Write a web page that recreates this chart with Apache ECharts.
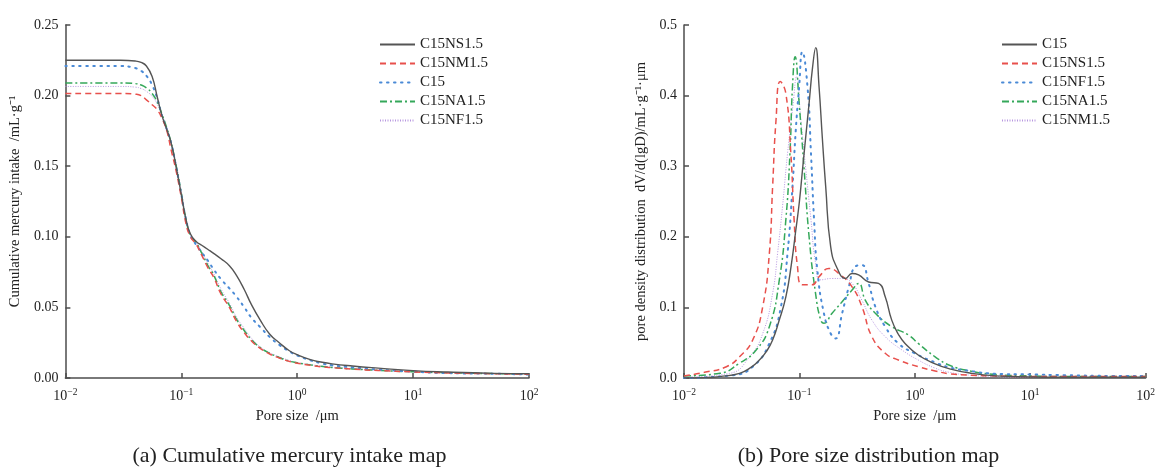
<!DOCTYPE html>
<html>
<head>
    <meta charset="utf-8">
    <title>ECharts</title>
    <script src="https://cdn.jsdelivr.net/npm/echarts@6/dist/echarts.min.js"></script>
    <style>
        body { margin: 0; background: #fff; }
        .box { position: absolute; top: 0; width: 579px; height: 468px; }
    </style>
</head>
<body>
    <div id="left" class="box" style="left:0"></div>
    <div id="right" class="box" style="left:579px"></div>
    <script type="text/javascript">
        // (a) cumulative intake, all series share the same pore sizes
        var poreA = [0.01, 0.02, 0.03, 0.04, 0.045, 0.05, 0.056, 0.062, 0.068, 0.075, 0.082, 0.09, 0.1, 0.11, 0.12, 0.135, 0.15, 0.17, 0.19, 0.22, 0.26, 0.3, 0.35, 0.4, 0.48, 0.58, 0.7, 0.85, 1, 1.3, 1.6, 2, 3, 5, 10, 20, 50, 100];
        var cumNS = [0.225, 0.225, 0.225, 0.2245, 0.2235, 0.221, 0.2135, 0.199, 0.186, 0.176, 0.166, 0.150, 0.130, 0.112, 0.102, 0.0965, 0.094, 0.091, 0.0883, 0.0845, 0.0795, 0.0725, 0.0625, 0.0525, 0.041, 0.031, 0.025, 0.0195, 0.0165, 0.013, 0.0113, 0.010, 0.0085, 0.007, 0.0052, 0.0042, 0.0033, 0.003];
        var cumNM = [0.2015, 0.2015, 0.2015, 0.201, 0.200, 0.197, 0.1935, 0.190, 0.184, 0.175, 0.161, 0.147, 0.128, 0.109, 0.100, 0.0945, 0.087, 0.078, 0.0715, 0.0595, 0.050, 0.040, 0.032, 0.0265, 0.021, 0.017, 0.0142, 0.0118, 0.0105, 0.009, 0.008, 0.0073, 0.0063, 0.0053, 0.0043, 0.0036, 0.003, 0.0027];
        var cumC15 = [0.221, 0.221, 0.221, 0.2195, 0.2175, 0.214, 0.2075, 0.198, 0.186, 0.176, 0.166, 0.150, 0.130, 0.112, 0.101, 0.094, 0.089, 0.083, 0.077, 0.070, 0.0635, 0.0575, 0.050, 0.043, 0.036, 0.029, 0.0235, 0.019, 0.016, 0.0125, 0.0105, 0.009, 0.0075, 0.006, 0.0045, 0.0035, 0.003, 0.0025];
        var cumNA = [0.209, 0.209, 0.209, 0.2085, 0.2075, 0.2055, 0.2015, 0.1955, 0.187, 0.177, 0.166, 0.151, 0.131, 0.112, 0.101, 0.0955, 0.0885, 0.0795, 0.073, 0.061, 0.0515, 0.0415, 0.0335, 0.0275, 0.0215, 0.0175, 0.0145, 0.012, 0.0108, 0.0093, 0.0083, 0.0075, 0.0064, 0.0054, 0.0044, 0.0037, 0.0031, 0.0028];
        var cumNF = [0.2065, 0.2065, 0.2065, 0.206, 0.205, 0.203, 0.1995, 0.194, 0.1865, 0.177, 0.1665, 0.152, 0.132, 0.113, 0.1015, 0.096, 0.0895, 0.081, 0.074, 0.063, 0.053, 0.043, 0.035, 0.0285, 0.022, 0.018, 0.015, 0.0125, 0.011, 0.0095, 0.0085, 0.0077, 0.0066, 0.0055, 0.0045, 0.0037, 0.0031, 0.0028];

        // (b) pore size distribution, one x list per curve
        var poreC15 = [0.01, 0.015, 0.0204, 0.0303, 0.038, 0.045, 0.052, 0.0586, 0.0663, 0.0763, 0.085, 0.0931, 0.1, 0.1063, 0.114, 0.1213, 0.13, 0.1384, 0.148, 0.158, 0.169, 0.1866, 0.213, 0.251, 0.286, 0.326, 0.398, 0.485, 0.554, 0.631, 0.72, 0.823, 1.07, 1.5, 2, 3, 5, 10, 20, 50, 100];
        var denC15 = [0, 0.0005, 0.002, 0.0066, 0.015, 0.0255, 0.038, 0.0538, 0.08, 0.115, 0.16, 0.2096, 0.25, 0.2946, 0.345, 0.389, 0.44, 0.468, 0.4126, 0.34, 0.271, 0.186, 0.155, 0.141, 0.148, 0.146, 0.136, 0.134, 0.115, 0.082, 0.062, 0.049, 0.0326, 0.02, 0.013, 0.007, 0.003, 0.0015, 0.001, 0.001, 0.001];
        var poreNS = [0.01, 0.015, 0.0233, 0.0303, 0.0394, 0.0481, 0.0549, 0.0586, 0.0627, 0.0682, 0.0763, 0.0843, 0.09, 0.0962, 0.106, 0.129, 0.148, 0.18, 0.22, 0.286, 0.348, 0.425, 0.554, 0.72, 1.07, 1.5, 2, 3, 5, 10, 20, 50, 100];
        var denNS = [0.003, 0.008, 0.016, 0.03, 0.054, 0.101, 0.1766, 0.271, 0.365, 0.42, 0.403, 0.318, 0.224, 0.158, 0.132, 0.132, 0.1435, 0.155, 0.148, 0.129, 0.101, 0.0585, 0.035, 0.0255, 0.016, 0.01, 0.006, 0.004, 0.003, 0.002, 0.002, 0.002, 0.002];
        var poreNF = [0.01, 0.0266, 0.0394, 0.0549, 0.0692, 0.0789, 0.0871, 0.093, 0.0995, 0.106, 0.1175, 0.126, 0.134, 0.143, 0.163, 0.1866, 0.206, 0.2346, 0.268, 0.306, 0.348, 0.398, 0.455, 0.554, 0.72, 1.0, 1.5, 2, 3, 5, 10, 20, 50, 100];
        var denNF = [0, 0.004, 0.016, 0.049, 0.101, 0.1766, 0.271, 0.351, 0.4126, 0.462, 0.4126, 0.318, 0.224, 0.153, 0.0917, 0.063, 0.056, 0.0917, 0.129, 0.158, 0.16, 0.134, 0.101, 0.0727, 0.049, 0.035, 0.022, 0.015, 0.01, 0.006, 0.005, 0.004, 0.003, 0.003];
        var poreNA = [0.01, 0.0204, 0.0303, 0.0422, 0.0549, 0.067, 0.0763, 0.0828, 0.0871, 0.0918, 0.0995, 0.11, 0.1213, 0.138, 0.153, 0.163, 0.192, 0.2346, 0.286, 0.326, 0.373, 0.455, 0.631, 0.879, 1.07, 1.5, 2, 3, 5, 10, 20, 50, 100];
        var denNA = [0.003, 0.0066, 0.021, 0.0397, 0.0727, 0.139, 0.224, 0.318, 0.4126, 0.455, 0.389, 0.2946, 0.20, 0.12, 0.082, 0.0775, 0.0917, 0.108, 0.1246, 0.134, 0.11, 0.0917, 0.0727, 0.061, 0.049, 0.03, 0.018, 0.01, 0.005, 0.003, 0.002, 0.002, 0.002];
        var poreNM = [0.01, 0.0249, 0.037, 0.0481, 0.0586, 0.0647, 0.0714, 0.0789, 0.0883, 0.0944, 0.103, 0.1138, 0.126, 0.138, 0.153, 0.192, 0.2346, 0.286, 0.348, 0.425, 0.554, 0.769, 1.07, 1.5, 2, 3, 5, 10, 20, 50, 100];
        var denNM = [0.001, 0.0066, 0.03, 0.063, 0.12, 0.1766, 0.243, 0.318, 0.389, 0.427, 0.365, 0.2946, 0.224, 0.1625, 0.139, 0.141, 0.141, 0.134, 0.11, 0.082, 0.0585, 0.04, 0.0255, 0.014, 0.008, 0.004, 0.002, 0.001, 0.001, 0.001, 0.001];

        var FONT = "'Liberation Serif', 'Times New Roman', serif";
        var INK = '#222';
        var AXIS = '#4d4d4d';

        // line looks
        var solidGray = { color: '#555', width: 1.4, type: 'solid' };
        var dashRed = { color: '#e8504c', width: 1.5, type: [6, 4] };
        var dotBlue = { color: '#4a8ad6', width: 2, type: [1.5, 5.5], cap: 'round' };
        var dashDotGreen = { color: '#35a85a', width: 1.5, type: [7, 3, 2, 3] };
        var fineLilac = { color: '#b797e0', width: 1, type: [1, 1.5] };

        function pairs(xs, ys) {
            var out = [];
            for (var i = 0; i < xs.length; i++) {
                out.push([xs[i], ys[i]]);
            }
            return out;
        }

        function makeSeries(name, xs, ys, style) {
            return {
                name: name,
                type: 'line',
                data: pairs(xs, ys),
                symbol: 'none',
                showSymbol: false,
                smooth: 0.5,
                lineStyle: style,
                itemStyle: { color: style.color },
                emphasis: { disabled: true }
            };
        }

        function logAxis() {
            return {
                type: 'log',
                logBase: 10,
                min: 0.01,
                max: 100,
                name: 'Pore size  /\u03bcm',
                nameLocation: 'middle',
                nameGap: 31,
                nameTextStyle: { fontFamily: FONT, fontSize: 14.5, color: INK },
                axisLine: { lineStyle: { color: AXIS, width: 1.5 } },
                axisTick: { inside: true, length: 5, lineStyle: { color: AXIS, width: 1.5 } },
                minorTick: { show: false },
                splitLine: { show: false },
                axisLabel: {
                    margin: 9,
                    formatter: function (v) {
                        var e = Math.round(Math.log10(v));
                        return '{b|10}{s|' + (e < 0 ? '\u2212' + (-e) : e) + '}';
                    },
                    rich: {
                        b: { fontFamily: FONT, fontSize: 14, color: INK, lineHeight: 18 },
                        s: { fontFamily: FONT, fontSize: 9.5, color: INK, lineHeight: 10, verticalAlign: 'top' }
                    }
                }
            };
        }

        function valueAxis(name, max, step, digits, gap) {
            return {
                type: 'value',
                min: 0,
                max: max,
                interval: step,
                name: name,
                nameLocation: 'middle',
                nameGap: gap,
                nameTextStyle: { fontFamily: FONT, fontSize: 14.5, color: INK },
                axisLine: { show: true, lineStyle: { color: AXIS, width: 1.5 } },
                axisTick: { show: true, inside: true, length: 5, lineStyle: { color: AXIS, width: 1.5 } },
                splitLine: { show: false },
                axisLabel: {
                    fontFamily: FONT, fontSize: 14, color: INK, margin: 7,
                    formatter: function (v) { return v.toFixed(digits); }
                }
            };
        }

        function legendAt(left, names) {
            return {
                left: left,
                top: 32,
                orient: 'vertical',
                data: names,
                itemWidth: 35,
                itemHeight: 12,
                itemGap: 4,
                selectedMode: false,
                itemStyle: { opacity: 0 },
                textStyle: { fontFamily: FONT, fontSize: 15, color: INK, lineHeight: 15 }
            };
        }

        function caption(text) {
            return {
                text: text,
                left: 'center',
                top: 440,
                textStyle: { fontFamily: FONT, fontSize: 22, fontWeight: 'normal', color: INK }
            };
        }

        var chartA = echarts.init(document.getElementById('left'));
        chartA.setOption({
            backgroundColor: '#fff',
            animation: false,
            title: caption('(a) Cumulative mercury intake map'),
            legend: legendAt(374, ['C15NS1.5', 'C15NM1.5', 'C15', 'C15NA1.5', 'C15NF1.5']),
            grid: { left: 65, top: 25, width: 464, height: 353 },
            xAxis: logAxis(),
            yAxis: valueAxis('Cumulative mercury intake  /mL\u00b7g\u207b\u00b9', 0.25, 0.05, 2, 33),
            series: [
                makeSeries('C15NF1.5', poreA, cumNF, fineLilac),
                makeSeries('C15NA1.5', poreA, cumNA, dashDotGreen),
                makeSeries('C15', poreA, cumC15, dotBlue),
                makeSeries('C15NM1.5', poreA, cumNM, dashRed),
                makeSeries('C15NS1.5', poreA, cumNS, solidGray)
            ]
        });

        var chartB = echarts.init(document.getElementById('right'));
        chartB.setOption({
            backgroundColor: '#fff',
            animation: false,
            title: caption('(b) Pore size distribution map'),
            legend: legendAt(417, ['C15', 'C15NS1.5', 'C15NF1.5', 'C15NA1.5', 'C15NM1.5']),
            grid: { left: 105, top: 25, width: 465, height: 353 },
            xAxis: logAxis(),
            yAxis: valueAxis('pore density distribution  dV/d(lgD)/mL\u00b7g\u207b\u00b9\u00b7\u03bcm', 0.5, 0.1, 1, 32),
            series: [
                makeSeries('C15NM1.5', poreNM, denNM, fineLilac),
                makeSeries('C15NA1.5', poreNA, denNA, dashDotGreen),
                makeSeries('C15NF1.5', poreNF, denNF, dotBlue),
                makeSeries('C15NS1.5', poreNS, denNS, dashRed),
                makeSeries('C15', poreC15, denC15, solidGray)
            ]
        });

        window.addEventListener('resize', function () {
            chartA.resize();
            chartB.resize();
        });
    </script>
</body>
</html>
